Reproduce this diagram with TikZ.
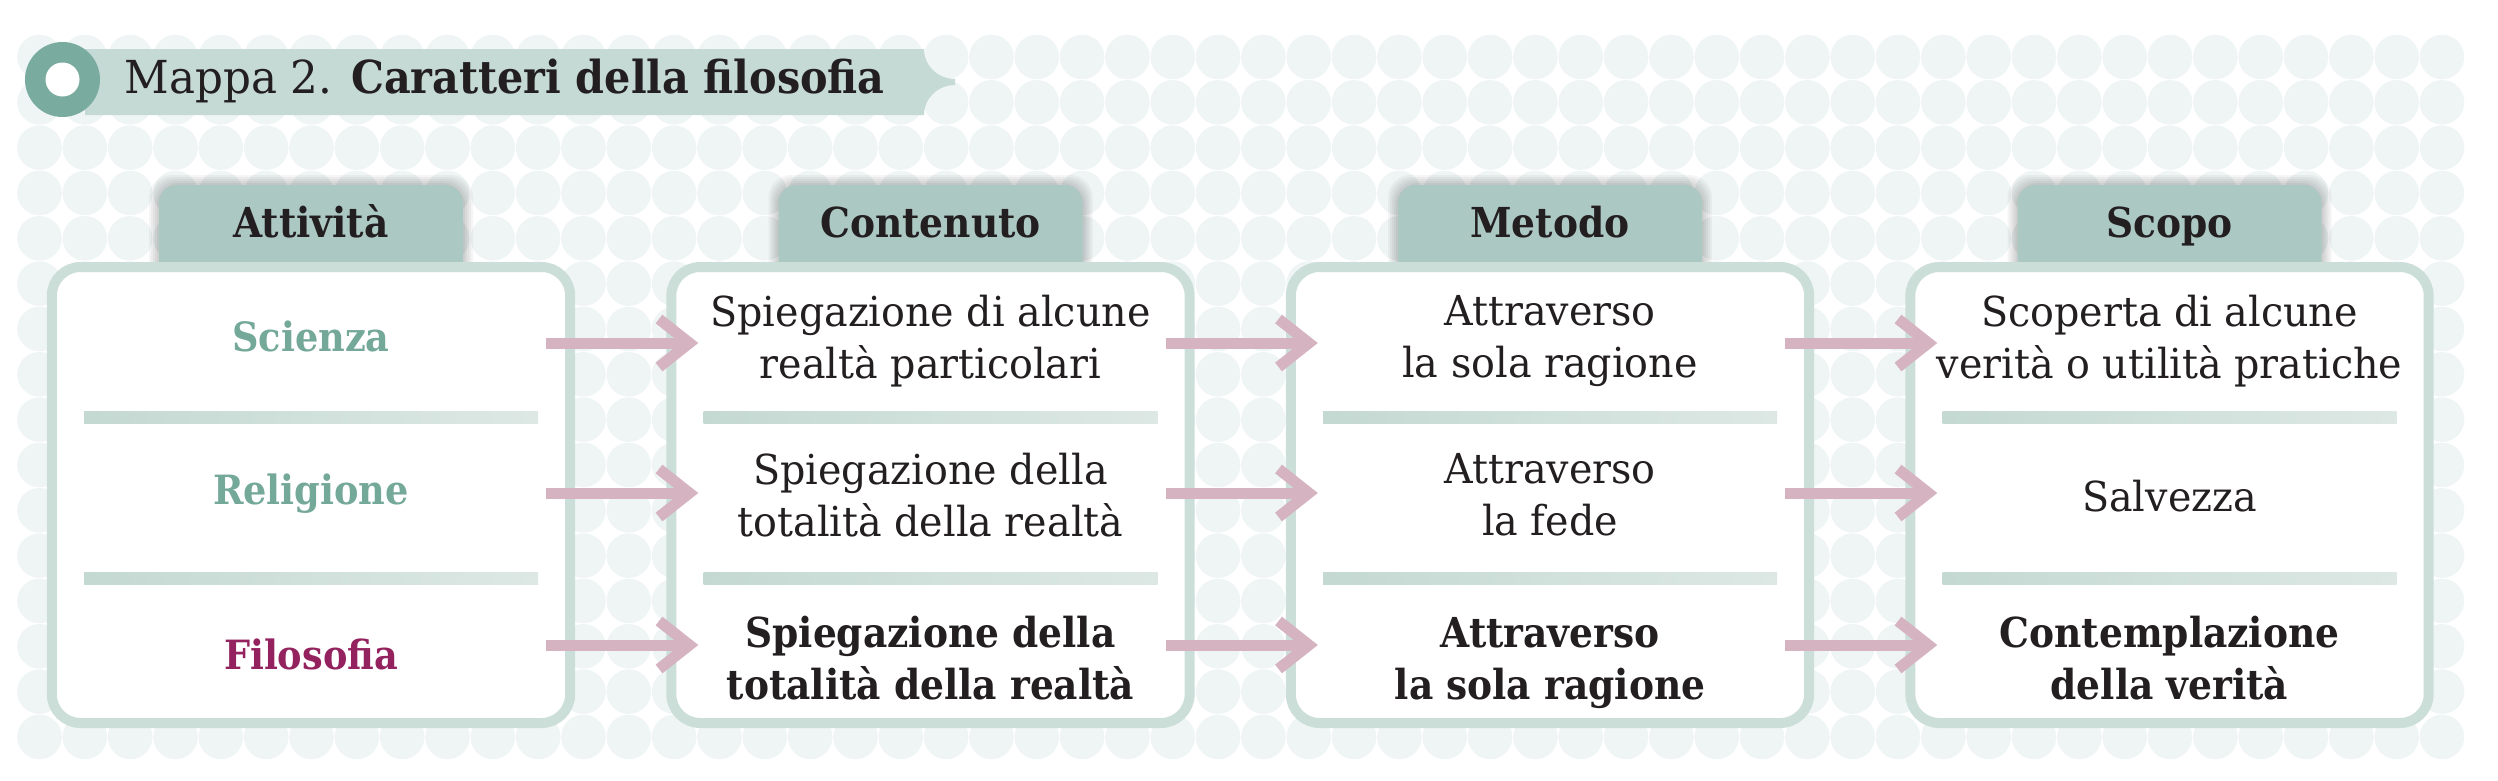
\documentclass[tikz,border=0pt]{standalone}
\usepackage{fontspec}
\setmainfont{DejaVu Serif}[UprightFeatures={FakeStretch=0.96},BoldFeatures={FakeStretch=0.91}]
\usetikzlibrary{arrows.meta}

\definecolor{dotfill}{HTML}{EEF5F4}
\definecolor{titleband}{HTML}{C5D9D5}
\definecolor{titlering}{HTML}{79AB9F}
\definecolor{tabfill}{HTML}{ACC8C3}
\definecolor{boxline}{HTML}{CCDED8}
\definecolor{sepdark}{HTML}{C4D9D2}
\definecolor{seplight}{HTML}{DDE8E4}
\definecolor{flowpink}{HTML}{D5B3C0}
\definecolor{scienza}{HTML}{74A899}
\definecolor{filo}{HTML}{93225E}
\definecolor{ink}{HTML}{231F20}

\tikzset{
  box/.style={draw=boxline, fill=white, line width=3.125pt, rounded corners=9pt,
    minimum width=162pt, minimum height=142.5pt, inner sep=0pt},
  tabhead/.style={font=\fontsize{12.9pt}{16.25pt}\selectfont\bfseries, text=ink,
    anchor=base, inner sep=0pt},
  activity/.style={font=\fontsize{12.6pt}{16pt}\selectfont\bfseries, inner sep=0pt},
  cell/.style={font=\fontsize{12.9pt}{16.25pt}\selectfont, text=ink, align=center,
    inner sep=0pt},
  keycell/.style={cell, font=\fontsize{12.9pt}{16.25pt}\selectfont\bfseries},
  flow/.style={draw=flowpink, line width=3.44pt,
    -{Straight Barb[length=9.5pt,width=15pt]}, shorten <=-9pt, shorten >=-10pt},
}

\begin{document}
\begin{tikzpicture}[x=0.3125pt,y=-0.3125pt]
  \useasboundingbox (0,0) rectangle (2498,780);
  % dotted background
  \foreach \i in {0,...,53}
    \foreach \j in {0,...,15}
      \fill[dotfill] (39.5+45.33*\i,57+45.33*\j) circle[radius=22.3];

  % title
  \fill[titleband] (85,49) -- (924,49) .. controls (924,66) and (938,79) .. (955,79)
    -- (955,85) .. controls (938,85) and (924,98) .. (924,115) -- (85,115) -- cycle;
  \fill[titlering] (62.5,79.5) circle[radius=37.5];
  \fill[white] (62.5,79.5) circle[radius=17];
  \node[anchor=base west, inner sep=0pt, text=ink, font=\fontsize{14.2pt}{17pt}\selectfont]
    (title) at (124,93) {Mappa 2. \textbf{Caratteri della filosofia}};

  % columns
  \foreach \i/\head in {1/Attività,2/Contenuto,3/Metodo,4/Scopo} {
    \pgfmathsetmacro\cx{311+619.5*(\i-1)}
    \foreach \k in {1,...,5}
      \fill[black,opacity=0.04,rounded corners=7pt] (\cx-152-2*\k,300) rectangle (\cx+152+2*\k,185-2*\k);
    \fill[tabfill,rounded corners=5.6pt] (\cx-152,300) rectangle (\cx+152,185);
    \node[tabhead] (head\i) at (\cx,237) {\head};
    \node[box] (box\i) at (\cx,495) {};
    \foreach \y in {417,578}
      \shade[left color=sepdark,right color=seplight] (\cx-227,\y-6) rectangle (\cx+227,\y+6);
  }

  \node[activity, text=scienza] (c11) at (311,336) {Scienza};
  \node[activity, text=scienza] (c12) at (311,494) {Religione};
  \node[activity, text=filo] (c13) at (311,654) {Filosofia};
  \node[cell] (c21) at (930.5,341) {Spiegazione di alcune\\realtà particolari};
  \node[cell] (c22) at (930.5,495) {Spiegazione della\\totalità della realtà};
  \node[keycell] (c23) at (930.5,658) {Spiegazione della\\totalità della realtà};
  \node[cell] (c31) at (1550,341) {Attraverso\\la sola ragione};
  \node[cell] (c32) at (1550,495) {Attraverso\\la fede};
  \node[keycell] (c33) at (1550,663) {Attraverso\\la sola ragione};
  \node[cell] (c41) at (2169.5,341) {Scoperta di alcune\\verità o utilità pratiche};
  \node[cell] (c42) at (2169.5,496) {Salvezza};
  \node[keycell] (c43) at (2169.5,658) {Contemplazione\\della verità};

  % arrows
  \coordinate (row1) at (0,343);
  \coordinate (row2) at (0,493);
  \coordinate (row3) at (0,645);
  \foreach \i/\j in {1/2,2/3,3/4}
    \foreach \r in {1,2,3}
      \draw[flow] (box\i.east |- row\r) -- (box\j.west |- row\r);
\end{tikzpicture}
\end{document}
